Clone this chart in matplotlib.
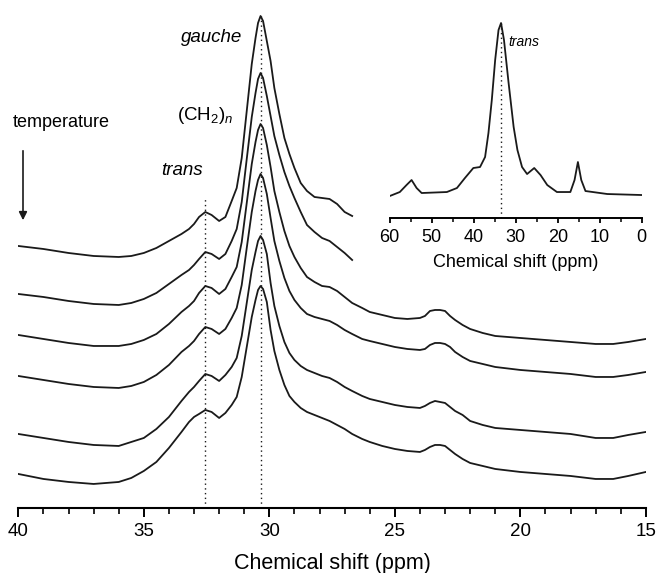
import numpy as np
import matplotlib
matplotlib.use("Agg")
import matplotlib.pyplot as plt
from matplotlib.ticker import MultipleLocator
from matplotlib.patches import FancyArrowPatch

plt.rcParams['font.family'] = ['Liberation Sans', 'DejaVu Sans']
plt.rcParams['mathtext.fontset'] = 'custom'
plt.rcParams['mathtext.rm'] = 'Liberation Sans'
plt.rcParams['mathtext.it'] = 'Liberation Sans:italic'

# ---------------------------------------------------------------------------
# Data (chemical shift in ppm, stacked intensity, a.u.)
# ---------------------------------------------------------------------------
ppm = [40, 39, 38, 37, 36, 35.5, 35, 34.5, 34, 33.5, 33.2, 33, 32.8, 32.55, 32.3, 32.0,
       31.75, 31.5, 31.3, 31.1, 30.9, 30.7, 30.55, 30.45, 30.35, 30.25, 30.1, 29.95,
       29.8, 29.6, 29.4, 29.2, 29.0, 28.75, 28.5, 28.2, 27.9, 27.6, 27.3, 27.0, 26.7,
       26.3, 26.0, 25.5, 25.0, 24.5, 24.0, 23.8, 23.6, 23.4, 23.2, 23.0, 22.8, 22.6,
       22.3, 22.0, 21.5, 21.0, 20.0, 19.0, 18.0, 17.0, 16.3, 15.7, 15.0]

# highest temperature on top; the top two traces stop at 26.7 ppm
trace1 = [262, 259, 255, 252, 251, 252, 255, 260, 267, 274, 279, 284, 291, 296, 293, 287,
          291, 307, 320, 350, 397, 444, 470, 485, 492, 487, 467, 447,
          420, 394, 370, 354, 340, 325, 317, 311, 310, 309, 304, 296, 292]
trace2 = [214, 211, 207, 204, 203, 205, 209, 215, 224, 233, 238, 243, 249, 256, 254, 249,
          254, 267, 279, 306, 349, 391, 415, 429, 435, 430, 412, 392,
          372, 353, 336, 322, 310, 296, 283, 276, 270, 267, 261, 255, 248]
trace3 = [173, 169, 165, 162, 162, 164, 168, 174, 184, 196, 202, 207, 215, 222, 220, 214,
          219, 231, 241, 266, 305, 344, 366, 378, 384, 380, 363, 341,
          317, 296, 277, 262, 251, 240, 231, 226, 222, 221, 217, 211, 205,
          200, 196, 193, 190, 189, 190, 192, 197, 198, 198, 197, 192, 188,
          183, 179, 175, 172, 170, 168, 166, 164, 164, 166, 169]
trace4 = [132, 128, 124, 121, 120, 122, 126, 133, 143, 156, 162, 167, 174, 181, 179, 174,
          179, 190, 200, 223, 260, 296, 317, 328, 334, 330, 314, 290,
          267, 247, 230, 217, 208, 200, 194, 191, 189, 187, 183, 178, 174,
          169, 167, 164, 161, 159, 158, 159, 163, 165, 165, 164, 161, 156,
          151, 147, 144, 141, 138, 136, 134, 131, 131, 133, 136]
trace5 = [74, 70, 66, 63, 62, 66, 70, 79, 91, 107, 116, 121, 127, 134, 132, 127,
          133, 141, 150, 172, 205, 238, 256, 267, 272, 268, 254, 225,
          202, 182, 166, 155, 148, 142, 138, 135, 132, 130, 126, 121, 117,
          112, 109, 106, 103, 101, 100, 102, 105, 107, 106, 105, 101, 97,
          93, 87, 83, 80, 78, 76, 74, 70, 70, 73, 76]
trace6 = [34, 29, 26, 24, 26, 30, 37, 46, 60, 76, 86, 91, 94, 98, 96, 90,
          95, 103, 111, 131, 161, 191, 208, 218, 222, 219, 206, 178,
          157, 138, 123, 112, 106, 100, 96, 93, 90, 87, 83, 79, 74,
          69, 66, 62, 59, 57, 56, 58, 61, 63, 63, 62, 58, 54,
          49, 45, 42, 39, 36, 34, 32, 29, 29, 32, 36]
traces = [trace1, trace2, trace3, trace4, trace5, trace6]

trans_ppm, gauche_ppm = 32.55, 30.35
trans_line_top = 310

# inset: whole spectrum 60-0 ppm
inset_ppm = [60, 57.6, 56.0, 54.8, 53.6, 52.4, 46.4, 44.0, 42.1, 40.1, 38.5, 37.3,
             36.5, 35.7, 34.9, 34.1, 33.5, 32.8, 31.7, 30.5, 29.6, 28.5, 27.3,
             25.6, 24.1, 22.5, 20.2, 17.0, 16.0, 15.2, 14.4, 13.4, 8.2, 0]
inset_int = [22, 26, 33, 38, 30, 25, 26, 30, 40, 50, 51, 61,
             85, 118, 158, 188, 195, 178, 135, 91, 68, 51, 44,
             50, 43, 33, 26, 26, 38, 56, 38, 27, 24, 23]
inset_trans_ppm = 33.4

main_ticks = [40, 35, 30, 25, 20, 15]
inset_ticks = [60, 50, 40, 30, 20, 10, 0]

LINE = "#1a1a1a"

fig = plt.figure(figsize=(6.57, 5.73), dpi=100)

# ---------------------------------------------------------------------------
# Main stacked spectra
# ---------------------------------------------------------------------------
ax = fig.add_axes([0.0279, 0.1135, 0.9551, 0.8865])
for tr in traces:
    ax.plot(ppm[:len(tr)], tr, color=LINE, lw=1.3, solid_joinstyle="round")

dots = (0, (1, 2.4))
ax.plot([trans_ppm, trans_ppm], [0, trans_line_top], color=LINE, lw=1.0, ls=dots)
ax.plot([gauche_ppm, gauche_ppm], [0, max(trace1)], color=LINE, lw=1.0, ls=dots)

ax.set_xlim(40, 15)
ax.set_ylim(0, 508)
for s in ("left", "top", "right"):
    ax.spines[s].set_visible(False)
ax.spines["bottom"].set_linewidth(1.5)
ax.set_yticks([])
ax.set_xticks(main_ticks)
ax.set_xticklabels([str(t) for t in main_ticks])
ax.xaxis.set_minor_locator(MultipleLocator(1))
ax.tick_params(axis="x", which="major", direction="out", length=6.5, width=1.4,
               labelsize=13.5, pad=4)
ax.tick_params(axis="x", which="minor", direction="out", length=4.3, width=1.2)
ax.set_xlabel("Chemical shift (ppm)", fontsize=15.5, labelpad=10)
ax.patch.set_alpha(0)

ax.text(32.32, 470, "gauche", style="italic", fontsize=13.5, ha="center", va="center")
ax.text(32.56, 392, r"(CH$_2$)$_n$", fontsize=13.5, ha="center", va="center")
ax.text(33.48, 337, "trans", style="italic", fontsize=13.5, ha="center", va="center")
fig.text(13 / 657, 1 - 123 / 573, "temperature", fontsize=13, ha="left", va="center")
fig.add_artist(FancyArrowPatch(
    (23 / 657, 1 - 148 / 573), (23 / 657, 1 - 223 / 573),
    transform=fig.transFigure, arrowstyle="-|>", mutation_scale=12,
    color=LINE, lw=1.2))

# ---------------------------------------------------------------------------
# Inset: whole spectrum
# ---------------------------------------------------------------------------
axi = fig.add_axes([0.5932, 0.6195, 0.3836, 0.3805])
axi.plot(inset_ppm, inset_int, color=LINE, lw=1.3, solid_joinstyle="round")
axi.plot([inset_trans_ppm, inset_trans_ppm], [0, max(inset_int)], color=LINE,
         lw=1.0, ls=dots)
axi.text(31.8, 176, "trans", style="italic", fontsize=10, ha="left", va="center")
axi.set_xlim(60, 0)
axi.set_ylim(0, 218)
for s in ("left", "top", "right"):
    axi.spines[s].set_visible(False)
axi.spines["bottom"].set_linewidth(1.4)
axi.set_yticks([])
axi.set_xticks(inset_ticks)
axi.set_xticklabels([str(t) for t in inset_ticks])
axi.xaxis.set_minor_locator(MultipleLocator(5))
axi.tick_params(axis="x", which="major", direction="out", length=3.8, width=1.3,
                labelsize=13, pad=4)
axi.tick_params(axis="x", which="minor", direction="out", length=2.6, width=1.1)
axi.set_xlabel("Chemical shift (ppm)", fontsize=13, labelpad=6)
axi.patch.set_alpha(0)

plt.savefig("out.png", dpi=100)
